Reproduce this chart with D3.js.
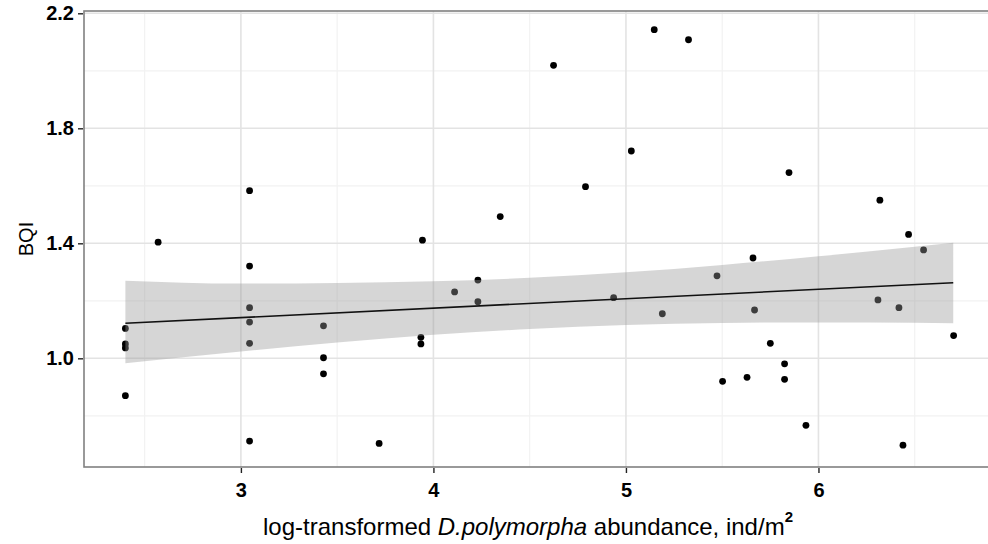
<!DOCTYPE html>
<html><head><meta charset="utf-8">
<script src="https://cdn.jsdelivr.net/npm/d3@7"></script>
<style>body{margin:0;background:#fff;overflow:hidden}</style>
</head><body>
<svg id="chart" width="988" height="544"></svg>
<script>
// log-transformed D. polymorpha abundance (x) and BQI (y)
const abundance = [2.40,2.40,2.40,2.40, 2.57,
  3.045,3.045,3.045,3.045,3.045,3.045,
  3.429,3.429,3.429, 3.718, 3.935,3.935, 3.943, 4.110, 4.231,4.231,
  4.347, 4.624, 4.790, 4.936, 5.028, 5.147, 5.189, 5.325, 5.473, 5.502,
  5.629, 5.660, 5.668, 5.750, 5.824,5.824, 5.847, 5.935, 6.309, 6.319,
  6.418, 6.439, 6.468, 6.546, 6.702];
const bqi = [1.104,1.050,1.036,0.870, 1.404,
  1.583,1.321,1.176,1.126,1.052,0.712,
  1.113,1.002,0.946, 0.704, 1.073,1.050, 1.411, 1.231, 1.272,1.197,
  1.493, 2.019, 1.597, 1.211, 1.721, 2.143, 1.155, 2.108, 1.287, 0.920,
  0.934, 1.349, 1.168, 1.052, 0.981,0.927, 1.646, 0.767, 1.203, 1.550,
  1.176, 0.698, 1.431, 1.377, 1.079];
// fitted regression line (end points) and its 95% confidence band
const fitX = [2.40, 6.70];
const fitY = [1.122, 1.263];
const bandX  = [2.40, 3.0, 3.5, 4.0, 4.5, 5.0, 5.5, 6.0, 6.5, 6.70];
const bandLo = [0.983, 1.024, 1.055, 1.082, 1.102, 1.116, 1.123, 1.125, 1.124, 1.122];
const bandHi = [1.270, 1.260, 1.262, 1.268, 1.280, 1.299, 1.325, 1.355, 1.388, 1.402];
const xTickLabels = [3,4,5,6];
const xMinor = [2.5,3.5,4.5,5.5,6.5];
const yTickLabels = [1.0,1.4,1.8,2.2];
const yMinor = [0.8,1.2,1.6,2.0];

const svg = d3.select("#chart");
const P = {left:84, right:995, top:11, bottom:467};
const x = d3.scaleLinear().domain([2.185, 6.917]).range([P.left, P.right]);
const y = d3.scaleLinear().domain([0.622, 2.208]).range([P.bottom, P.top]);

const g = svg.append("g");
g.append("rect").attr("x",P.left).attr("y",P.top).attr("width",P.right-P.left).attr("height",P.bottom-P.top).attr("fill","#fff");
// minor grid
g.selectAll(".xmin").data(xMinor).join("line").attr("x1",d=>x(d)).attr("x2",d=>x(d)).attr("y1",P.top).attr("y2",P.bottom).attr("stroke","#f2f2f2").attr("stroke-width",1.2);
g.selectAll(".ymin").data(yMinor).join("line").attr("y1",d=>y(d)).attr("y2",d=>y(d)).attr("x1",P.left).attr("x2",P.right).attr("stroke","#f2f2f2").attr("stroke-width",1.2);
// major grid
g.selectAll(".xmaj").data(xTickLabels).join("line").attr("x1",d=>x(d)).attr("x2",d=>x(d)).attr("y1",P.top).attr("y2",P.bottom).attr("stroke","#e3e3e3").attr("stroke-width",1.6);
g.selectAll(".ymaj").data(yTickLabels).join("line").attr("y1",d=>y(d)).attr("y2",d=>y(d)).attr("x1",P.left).attr("x2",P.right).attr("stroke","#e3e3e3").attr("stroke-width",1.6);

// points
const pts = abundance.map((a,i)=>({x:a,y:bqi[i]}));
g.selectAll(".pt").data(pts).join("circle").attr("cx",d=>x(d.x)).attr("cy",d=>y(d.y)).attr("r",3.4).attr("fill","#000");

// confidence band (drawn over points, semi-transparent like ggplot)
const band = bandX.map((v,i)=>({x:v, lo:bandLo[i], hi:bandHi[i]}));
g.append("path").datum(band)
  .attr("d", d3.area().curve(d3.curveMonotoneX).x(d=>x(d.x)).y0(d=>y(d.lo)).y1(d=>y(d.hi)))
  .attr("fill","#999").attr("fill-opacity",0.4);
const fit = fitX.map((v,i)=>({x:v, y:fitY[i]}));
g.append("path").datum(fit)
  .attr("d", d3.line().x(d=>x(d.x)).y(d=>y(d.y)))
  .attr("fill","none").attr("stroke","#111").attr("stroke-width",1.6);

// panel border
g.append("rect").attr("x",P.left).attr("y",P.top).attr("width",P.right-P.left).attr("height",P.bottom-P.top)
  .attr("fill","none").attr("stroke","#808080").attr("stroke-width",1.6);

// axes
const xAxis = d3.axisBottom(x).tickValues(xTickLabels).tickFormat(d3.format("d")).tickSize(5).tickPadding(10);
const yAxis = d3.axisLeft(y).tickValues(yTickLabels).tickFormat(d3.format(".1f")).tickSize(5).tickPadding(4);
const gx = svg.append("g").attr("transform",`translate(0,${P.bottom+1})`).call(xAxis);
const gy = svg.append("g").attr("transform",`translate(${P.left-1},0)`).call(yAxis);
[gx,gy].forEach(a=>{
  a.select(".domain").remove();
  a.selectAll(".tick line").attr("stroke","#222").attr("stroke-width",1.4);
  a.selectAll(".tick text").attr("fill","#000").attr("font-family","'Liberation Sans', Arial, sans-serif")
    .attr("font-size",20).attr("font-weight","bold");
});

// axis titles
const xt = svg.append("text").attr("x",528).attr("y",535).attr("text-anchor","middle")
  .attr("font-family","'Liberation Sans', Arial, sans-serif").attr("font-size",24).attr("fill","#000");
xt.append("tspan").text("log-transformed ");
xt.append("tspan").attr("font-style","italic").text("D.polymorpha");
xt.append("tspan").text(" abundance, ind/m");
xt.append("tspan").attr("font-size",15).attr("font-weight","bold").attr("dy",-13).text("2");

svg.append("text").attr("transform","translate(33,239) rotate(-90)").attr("text-anchor","middle")
  .attr("font-family","'Liberation Sans', Arial, sans-serif").attr("font-size",20).attr("fill","#000").text("BQI");
</script>
</body></html>
